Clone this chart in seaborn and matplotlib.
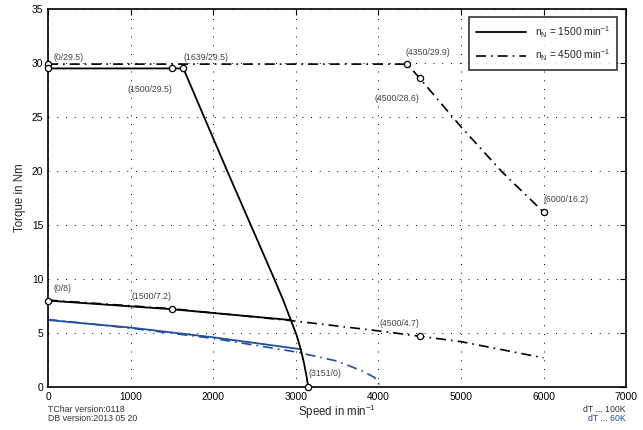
import matplotlib
matplotlib.use("Agg")
import matplotlib.pyplot as plt
import seaborn as sns
from matplotlib.lines import Line2D

# rated speed 1500, dT 100K
n_peak_1500 = [0, 1500, 1639, 1890, 2170, 2455, 2740, 2850, 2940, 3010, 3060, 3100, 3130, 3151]
m_peak_1500 = [29.5, 29.5, 29.5, 25.0, 20.0, 15.0, 10.0, 8.0, 6.2, 4.8, 3.5, 2.2, 1.0, 0.0]
n_cont_1500 = [0, 1500, 2940]
m_cont_1500 = [8.0, 7.2, 6.2]

# rated speed 4500, dT 100K
n_peak_4500 = [0, 4350, 4500, 5000, 5500, 6000]
m_peak_4500 = [29.9, 29.9, 28.6, 24.1, 19.9, 16.2]
n_cont_4500 = [0, 1500, 3000, 4000, 4500, 5000, 6000]
m_cont_4500 = [8.05, 7.25, 6.1, 5.2, 4.7, 4.2, 2.7]

# dT 60K (blue)
n_cont60_1500 = [0, 1000, 2000, 3060]
m_cont60_1500 = [6.2, 5.5, 4.6, 3.5]
n_cont60_4500 = [0, 1000, 2000, 3000, 3500, 3800, 3950, 4000, 4020]
m_cont60_4500 = [6.25, 5.45, 4.5, 3.25, 2.4, 1.5, 0.9, 0.4, 0.0]

# marked points
pt_n = [0, 0, 1500, 1639, 4350, 4500, 6000, 0, 1500, 4500, 3151]
pt_m = [29.9, 29.5, 29.5, 29.5, 29.9, 28.6, 16.2, 8.0, 7.2, 4.7, 0.0]
labels = [
    ("(0/29.5)", 0, 29.5, "left", 4, 8),
    ("(1639/29.5)", 1639, 29.5, "left", 0, 8),
    ("(1500/29.5)", 1500, 29.5, "right", 0, -15),
    ("(4350/29.9)", 4350, 29.9, "left", -1, 8),
    ("(4500/28.6)", 4500, 28.6, "right", 0, -15),
    ("(6000/16.2)", 6000, 16.2, "left", 0, 9),
    ("(0/8)", 0, 8.0, "left", 4, 9),
    ("(1500/7.2)", 1500, 7.2, "right", 0, 9),
    ("(4500/4.7)", 4500, 4.7, "right", 0, 9),
    ("(3151/0)", 3151, 0.0, "left", 0, 10),
]

sns.set_style("white")
plt.rcParams["font.family"] = ["Liberation Sans", "DejaVu Sans"]
plt.rcParams["mathtext.default"] = "regular"

fig = plt.figure(figsize=(6.43, 4.30), dpi=100)
ax = fig.add_axes([0.0747, 0.1, 0.899, 0.879])

blue = "#1f4fa0"
dashdot = (0, (6, 3, 1, 3))

sns.lineplot(x=n_cont60_4500, y=m_cont60_4500, ax=ax, color=blue, lw=1.2,
             linestyle=dashdot, sort=False, estimator=None)
sns.lineplot(x=n_cont60_1500, y=m_cont60_1500, ax=ax, color=blue, lw=1.3,
             sort=False, estimator=None)
sns.lineplot(x=n_peak_4500, y=m_peak_4500, ax=ax, color="black", lw=1.2,
             linestyle=dashdot, sort=False, estimator=None)
sns.lineplot(x=n_cont_4500, y=m_cont_4500, ax=ax, color="black", lw=1.2,
             linestyle=dashdot, sort=False, estimator=None)
sns.lineplot(x=n_peak_1500, y=m_peak_1500, ax=ax, color="black", lw=1.3,
             sort=False, estimator=None)
sns.lineplot(x=n_cont_1500, y=m_cont_1500, ax=ax, color="black", lw=1.3,
             sort=False, estimator=None)

sns.scatterplot(x=pt_n, y=pt_m, ax=ax, s=20, facecolor="white",
                edgecolor="black", linewidth=0.9, zorder=5, clip_on=False)

for txt, x, y, ha, dx, dy in labels:
    ax.annotate(txt, (x, y), xytext=(dx, dy), textcoords="offset points",
                ha=ha, va="center", fontsize=6.3, color="#444444")

ax.set_xlim(0, 7000)
ax.set_ylim(0, 35)
ax.set_xticks(range(0, 7001, 1000))
ax.set_yticks(range(0, 36, 5))
ax.tick_params(direction="in", length=4, top=True, right=True, labelsize=7.4,
               width=0.8, colors="black")
ax.grid(True, color="black", linestyle=(0, (1, 8)), lw=0.7)
for sp in ax.spines.values():
    sp.set_linewidth(1.2)
    sp.set_color("black")

ax.set_xlabel("Speed in min$^{-1}$", fontsize=8.3, labelpad=1)
ax.set_ylabel("Torque in Nm", fontsize=8.3, labelpad=4)

handles = [
    Line2D([], [], color="black", lw=1.3),
    Line2D([], [], color="black", lw=1.2, linestyle=dashdot),
]
leg = ax.legend(handles, ["n$_N$ = 1500 min$^{-1}$", "n$_N$ = 4500 min$^{-1}$"],
                loc="upper right", bbox_to_anchor=(0.984, 0.979), borderaxespad=0,
                fontsize=7.4, frameon=True, fancybox=False, edgecolor="black",
                handlelength=4.9, borderpad=0.7, labelspacing=0.75)
leg.get_frame().set_linewidth(1.2)

fig.text(0.0747, 0.042, "TChar version:0118", fontsize=6.3, color="#333333")
fig.text(0.0747, 0.02, "DB version:2013 05 20", fontsize=6.3, color="#333333")
fig.text(0.9735, 0.042, "dT ... 100K", fontsize=6.3, color="#333333", ha="right")
fig.text(0.9735, 0.02, "dT ... 60K", fontsize=6.3, color=blue, ha="right")

fig.savefig("out.png", dpi=100)
